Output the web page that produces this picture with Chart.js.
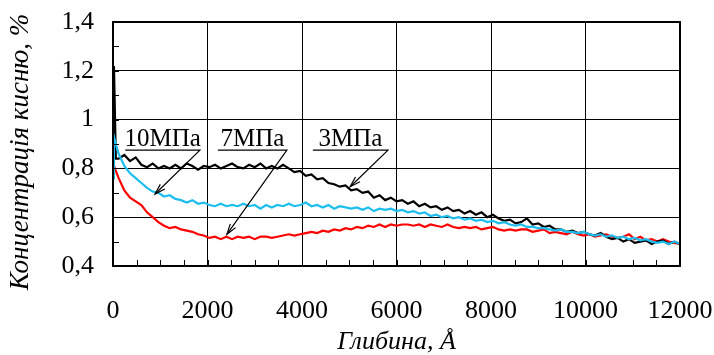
<!DOCTYPE html>
<html>
<head>
<meta charset="utf-8">
<script src="https://cdn.jsdelivr.net/npm/chart.js@4"></script>
<style>
  html, body { margin: 0; padding: 0; background: #fff; }
</style>
</head>
<body>
<canvas id="myChart" width="714" height="355"></canvas>
<script>
// depth, Å
const depth = [0, 20, 60,
    120, 240, 360, 480, 600, 720, 840, 960, 1080, 1200,
    1320, 1440, 1560, 1680, 1800, 1920, 2040, 2160, 2280, 2400,
    2520, 2640, 2760, 2880, 3000, 3120, 3240, 3360, 3480, 3600,
    3720, 3840, 3960, 4080, 4200, 4320, 4440, 4560, 4680, 4800,
    4920, 5040, 5160, 5280, 5400, 5520, 5640, 5760, 5880, 6000,
    6120, 6240, 6360, 6480, 6600, 6720, 6840, 6960, 7080, 7200,
    7320, 7440, 7560, 7680, 7800, 7920, 8040, 8160, 8280, 8400,
    8520, 8640, 8760, 8880, 9000, 9120, 9240, 9360, 9480, 9600,
    9720, 9840, 9960, 10080, 10200, 10320, 10440, 10560, 10680, 10800,
    10920, 11040, 11160, 11280, 11400, 11520, 11640, 11760, 11880, 12000];

// 3 МПа
const oxygen3 = [0.82, 1.22, 0.84,
    0.84, 0.855, 0.83, 0.845, 0.815, 0.805, 0.82, 0.80, 0.81, 0.80,
    0.815, 0.80, 0.82, 0.81, 0.795, 0.81, 0.805, 0.815, 0.80, 0.81,
    0.82, 0.805, 0.80, 0.815, 0.805, 0.82, 0.80, 0.81, 0.80, 0.815,
    0.80, 0.785, 0.79, 0.77, 0.775, 0.755, 0.76, 0.74, 0.735, 0.725,
    0.73, 0.71, 0.715, 0.70, 0.705, 0.68, 0.69, 0.67, 0.68, 0.665,
    0.67, 0.655, 0.665, 0.645, 0.655, 0.64, 0.645, 0.63, 0.64, 0.625,
    0.63, 0.615, 0.625, 0.61, 0.62, 0.60, 0.61, 0.595, 0.585, 0.59,
    0.575, 0.58, 0.595, 0.57, 0.575, 0.56, 0.565, 0.55, 0.55, 0.54,
    0.545, 0.535, 0.54, 0.53, 0.525, 0.535, 0.52, 0.51, 0.515, 0.50,
    0.51, 0.495, 0.50, 0.505, 0.49, 0.50, 0.505, 0.49, 0.50, 0.49];

// 7 МПа
const oxygen7 = [0.83, 0.81, 0.79,
    0.76, 0.71, 0.68, 0.665, 0.65, 0.62, 0.60, 0.58, 0.565, 0.555,
    0.56, 0.55, 0.545, 0.54, 0.53, 0.525, 0.515, 0.52, 0.51, 0.52,
    0.51, 0.52, 0.515, 0.52, 0.51, 0.52, 0.52, 0.515, 0.52, 0.525,
    0.53, 0.525, 0.53, 0.535, 0.54, 0.535, 0.545, 0.54, 0.55, 0.545,
    0.555, 0.55, 0.56, 0.555, 0.565, 0.56, 0.57, 0.56, 0.57, 0.565,
    0.57, 0.57, 0.565, 0.57, 0.56, 0.57, 0.565, 0.56, 0.57, 0.56,
    0.555, 0.56, 0.555, 0.56, 0.55, 0.555, 0.56, 0.55, 0.545, 0.55,
    0.545, 0.55, 0.55, 0.54, 0.545, 0.55, 0.535, 0.54, 0.535, 0.53,
    0.54, 0.53, 0.525, 0.53, 0.52, 0.525, 0.53, 0.52, 0.515, 0.52,
    0.53, 0.51, 0.52, 0.505, 0.51, 0.50, 0.51, 0.50, 0.495, 0.49];

// 10 МПа
const oxygen10 = [0.76, 0.93, 0.90,
    0.86, 0.81, 0.78, 0.76, 0.74, 0.72, 0.705, 0.70, 0.685, 0.69,
    0.675, 0.67, 0.66, 0.67, 0.655, 0.66, 0.65, 0.645, 0.655, 0.645,
    0.65, 0.645, 0.655, 0.645, 0.65, 0.635, 0.65, 0.64, 0.65, 0.645,
    0.655, 0.645, 0.65, 0.66, 0.645, 0.65, 0.64, 0.65, 0.635, 0.645,
    0.64, 0.635, 0.64, 0.63, 0.64, 0.625, 0.635, 0.63, 0.635, 0.625,
    0.63, 0.62, 0.625, 0.615, 0.62, 0.605, 0.61, 0.60, 0.605, 0.595,
    0.60, 0.59, 0.595, 0.585, 0.59, 0.58, 0.585, 0.575, 0.58, 0.57,
    0.565, 0.57, 0.56, 0.56, 0.555, 0.555, 0.55, 0.545, 0.55, 0.54,
    0.54, 0.535, 0.54, 0.53, 0.525, 0.53, 0.52, 0.525, 0.515, 0.52,
    0.51, 0.515, 0.505, 0.51, 0.50, 0.495, 0.50, 0.49, 0.50, 0.49];

const FONT = '"Liberation Serif", "Times New Roman", serif';
const yTitle = 'Концентрація кисню, %';

function points(values) {
    return depth.map((d, i) => ({ x: d, y: values[i] }));
}

// labels with underline + arrow, in data units
const callouts = [
    { text: '10МПа', x1: 260, x2: 1840, y: 0.875, ax: 890, ay: 0.695 },
    { text: '7МПа', x1: 2220, x2: 3680, y: 0.875, ax: 2410, ay: 0.53 },
    { text: '3МПа', x1: 4230, x2: 5820, y: 0.875, ax: 5020, ay: 0.725 }
];

const extras = {
    id: 'extras',
    afterDatasetsDraw(chart) {
        const ctx = chart.ctx;
        const xs = chart.scales.x;
        const ys = chart.scales.y;
        const area = chart.chartArea;
        ctx.save();
        ctx.strokeStyle = '#000';
        ctx.fillStyle = '#000';

        // minor ticks inside bottom and left
        ctx.lineWidth = 1;
        ctx.beginPath();
        for (let v = 500; v < 12000; v += 500) {
            const px = Math.round(xs.getPixelForValue(v)) + 0.5;
            ctx.moveTo(px, area.bottom);
            ctx.lineTo(px, area.bottom - 6);
        }
        for (let v = 0.5; v < 1.4; v += 0.1) {
            const py = Math.round(ys.getPixelForValue(v)) + 0.5;
            ctx.moveTo(area.left, py);
            ctx.lineTo(area.left + 6, py);
        }
        ctx.stroke();

        // frame
        ctx.lineWidth = 2;
        ctx.strokeRect(area.left, area.top, area.right - area.left, area.bottom - area.top);

        // callouts
        ctx.font = '25px ' + FONT;
        ctx.textAlign = 'center';
        ctx.textBaseline = 'alphabetic';
        ctx.lineWidth = 1.2;
        callouts.forEach(c => {
            const x1 = xs.getPixelForValue(c.x1);
            const x2 = xs.getPixelForValue(c.x2);
            const y = ys.getPixelForValue(c.y);
            const ax = xs.getPixelForValue(c.ax);
            const ay = ys.getPixelForValue(c.ay);
            ctx.fillText(c.text, (x1 + x2) / 2, y - 4);
            ctx.beginPath();
            ctx.moveTo(x1, y);
            ctx.lineTo(x2, y);
            ctx.lineTo(ax, ay);
            ctx.stroke();
            const ang = Math.atan2(ay - y, ax - x2);
            const len = 11, spread = 0.3;
            ctx.beginPath();
            ctx.moveTo(ax - len * Math.cos(ang - spread), ay - len * Math.sin(ang - spread));
            ctx.lineTo(ax, ay);
            ctx.lineTo(ax - len * Math.cos(ang + spread), ay - len * Math.sin(ang + spread));
            ctx.stroke();
        });

        // y axis title
        ctx.font = 'italic 27px ' + FONT;
        ctx.textBaseline = 'middle';
        ctx.translate(21, 152);
        ctx.rotate(-Math.PI / 2);
        ctx.fillText(yTitle, 0, 0);
        ctx.restore();
    }
};

new Chart(document.getElementById('myChart').getContext('2d'), {
    type: 'line',
    data: {
        datasets: [
            { label: '10МПа', data: points(oxygen10), borderColor: '#1cbef0', borderWidth: 2.2 },
            { label: '3МПа', data: points(oxygen3), borderColor: '#000000', borderWidth: 2.2 },
            { label: '7МПа', data: points(oxygen7), borderColor: '#ff0000', borderWidth: 2.2 }
        ]
    },
    options: {
        responsive: false,
        animation: false,
        devicePixelRatio: 1,
        layout: { padding: { top: 22, right: 34, left: 0, bottom: 0 } },
        elements: { point: { radius: 0 }, line: { tension: 0 } },
        plugins: { legend: { display: false }, tooltip: { enabled: false } },
        scales: {
            x: {
                type: 'linear',
                min: 0,
                max: 12000,
                afterFit(scale) {
                    scale.height = 89;
                    scale.paddingLeft = 0;
                    scale.paddingRight = 0;
                },
                ticks: {
                    stepSize: 2000,
                    color: '#000',
                    padding: 30,
                    maxRotation: 0,
                    font: { family: FONT, size: 26 },
                    callback: v => String(v)
                },
                grid: { color: '#000', lineWidth: 1, drawTicks: false },
                border: { display: false },
                title: {
                    display: true,
                    text: 'Глибина, Å',
                    color: '#000',
                    padding: { top: 0, bottom: 0 },
                    font: { family: FONT, size: 26, style: 'italic', lineHeight: 1 }
                }
            },
            y: {
                min: 0.4,
                max: 1.4,
                afterFit(scale) {
                    scale.width = 113;
                    scale.paddingTop = 0;
                    scale.paddingBottom = 0;
                },
                ticks: {
                    stepSize: 0.2,
                    color: '#000',
                    padding: 19,
                    font: { family: FONT, size: 26 },
                    callback: v => String(Math.round(v * 10) / 10).replace('.', ',')
                },
                grid: { color: '#000', lineWidth: 1, drawTicks: false },
                border: { display: false }
            }
        }
    },
    plugins: [extras]
});
</script>
</body>
</html>
